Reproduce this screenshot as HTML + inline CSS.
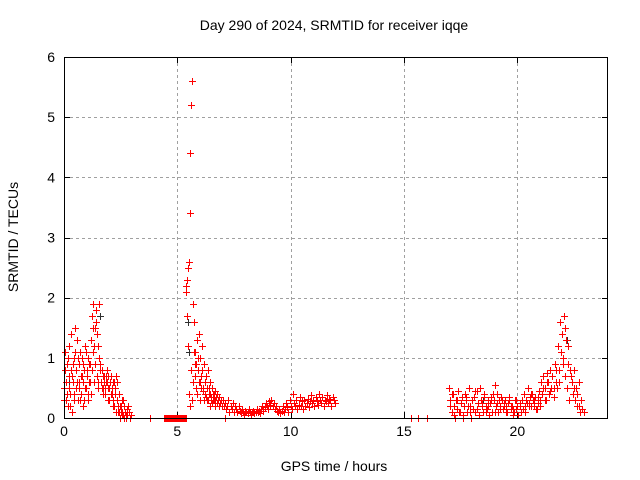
<!DOCTYPE html>
<html><head><meta charset="utf-8"><style>
body{margin:0;background:#fff;}
svg{display:block;font-family:"Liberation Sans",sans-serif;}
</style></head><body>
<svg id="chart" width="640" height="480" viewBox="0 0 640 480">
<rect width="640" height="480" fill="#fff"/>
<text x="334" y="30" font-size="14" text-anchor="middle">Day 290 of 2024, SRMTID for receiver iqqe</text>
<text x="334" y="471" font-size="14" text-anchor="middle">GPS time / hours</text>
<text transform="translate(18,237) rotate(-90)" font-size="14" text-anchor="middle">SRMTID / TECUs</text>
<g id="grid"></g>
<g id="ticks"></g>
<g id="marks"></g>
<rect x="64.5" y="57.5" width="543" height="361" fill="none" stroke="#000" stroke-width="1"/>
</svg>
<script>
const xTicks=[0,5,10,15,20];
const yTicks=[0,1,2,3,4,5,6];
const segStarts=[0,0.02,5.38,5.40,7.0,17.0,17.02,4.4];
const segSteps=[0.04,0.04,0.04,0.04,0.05,0.05,0.1,0.04];
const seg1=[0.5,1.1,0.3,0.9,0.2,0.7,1.2,0.4,0.8,0.1,0.6,1.0,1.5,0.5,1.3,0.3,0.9,0.6,1.1,0.4,0.7,0.9,0.3,1.2,0.5,0.8,1.0,0.4,0.6,0.9,1.3,1.7,1.9,0.6,1.5,1.8,0.7,1.2,0.5,1.9,0.9,0.6,0.8,0.5,0.7,0.4,0.6,0.8,0.5,0.7,0.3,0.6,0.7,0.4,0.6,0.2,0.5,0.7,0.3,0.6,0.1,0.4,0.2,0.1,0.3,0.05,0.2,0.1,0.0,0.15,0.05,0.2,0.1,0.0,0.05];
const seg1b=[0.3,0.8,0.6,0.4,1.0,0.5,0.2,1.4,0.7,0.9,0.4,0.3,1.1,0.8,0.6,1.0,0.5,0.3,0.7,1.0,0.6,0.2,0.8,0.5,1.1,0.7,0.3,0.9,0.6,0.4,0.8,1.1,1.5,1.2,0.9,1.6,1.4,0.6,1.0,0.8,0.6,0.5,0.7,0.4,0.6,0.5,0.7,0.6,0.3,0.5,0.6,0.4,0.5,0.2,0.3,0.6,0.4,0.1,0.3,0.2,0.1,0.0,0.2,0.1,0.05,0.3,0.0,0.1,0.05];
const seg2=[2.1,2.3,2.5,2.6,3.4,4.4,5.2,5.6,1.9,1.6,1.1,0.9,1.3,0.8,1.4,0.6,1.0,0.7,1.2,0.5,0.9,0.4,0.7,0.3,0.8,0.5,0.6,0.4,0.3,0.5,0.4,0.3,0.45,0.35,0.4,0.3,0.2,0.35,0.25,0.3,0.2];
const seg2b=[2.2,1.7,1.2,0.4,0.2,0.8,0.3,0.6,1.1,0.9,0.7,0.5,0.4,1.0,0.6,0.3,0.5,0.8,0.45,0.3,0.6,0.4,0.35,0.5,0.3,0.4,0.2,0.35,0.25,0.3,0.4,0.3,0.2,0.35,0.25];
const seg3=[0.3,0.2,0.25,0.15,0.2,0.3,0.1,0.2,0.15,0.25,0.1,0.2,0.15,0.1,0.2,0.12,0.08,0.15,0.1,0.05,0.12,0.1,0.08,0.15,0.1,0.05,0.1,0.12,0.08,0.1,0.15,0.1,0.12,0.08,0.15,0.2,0.12,0.18,0.25,0.2,0.15,0.28,0.22,0.3,0.2,0.25,0.15,0.2,0.12,0.1,0.15,0.08,0.12,0.2,0.1,0.15,0.25,0.18,0.1,0.3,0.2,0.15,0.4,0.25,0.2,0.3,0.15,0.22,0.35,0.2,0.28,0.15,0.3,0.2,0.25,0.32,0.18,0.28,0.38,0.25,0.3,0.2,0.35,0.28,0.22,0.4,0.3,0.25,0.35,0.2,0.3,0.28,0.38,0.25,0.32,0.3,0.2,0.35,0.3,0.25];
const seg4=[0.5,0.3,0.1,0.4,0.2,0.0,0.3,0.15,0.45,0.1,0.25,0.35,0.05,0.2,0.4,0.3,0.1,0.5,0.2,0.0,0.3,0.15,0.35,0.1,0.45,0.25,0.05,0.5,0.3,0.2,0.1,0.4,0.2,0.15,0.3,0.05,0.25,0.35,0.1,0.3,0.55,0.2,0.4,0.1,0.3,0.2,0.35,0.15,0.25,0.3,0.2,0.1,0.25,0.3,0.15,0.2,0.05,0.1,0.3,0.15,0.2,0.05,0.25,0.1,0.3,0.15,0.4,0.2,0.3,0.5,0.25,0.35,0.2,0.4,0.3,0.2,0.35,0.15,0.25,0.45,0.3,0.6,0.4,0.7,0.5,0.3,0.75,0.6,0.4,0.8,0.5,0.7,0.35,0.9,0.6,0.5,1.2,0.8,1.6,1.4,1.0,1.7,0.7,1.3,0.5,0.9,0.3,0.7,0.6,0.4,0.8,0.3,0.5,0.2,0.6,0.1,0.3,0.15];
const seg4b=[0.2,0.4,0.05,0.3,0.1,0.25,0.0,0.35,0.2,0.1,0.3,0.45,0.15,0.05,0.25,0.35,0.1,0.2,0.3,0.4,0.1,0.25,0.15,0.3,0.2,0.1,0.35,0.2,0.15,0.3,0.05,0.2,0.3,0.1,0.25,0.2,0.4,0.3,0.15,0.35,0.2,0.5,0.3,0.6,0.45,0.7,0.5,0.8,0.6,1.1,0.9,1.5,1.2,0.8,0.6,0.5,0.4,0.2,0.3,0.1];
const segZero=[0,0,0,0,0,0,0,0,0,0,0,0,0,0,0,0,0,0,0,0,0,0,0,0,0,0];
const extraHours=[3.8,7.1,15.3,15.6,16.0];
const extraValues=[0,0,0,0,0];
const darkHours=[0.2,1.6,5.45,5.5,22.2,18.5];
const darkValues=[0.6,1.7,1.6,1.1,1.3,0.3];
const segValues=[seg1,seg1b,seg2,seg2b,seg3,seg4,seg4b,segZero];

const X0=64,X1=608,Y0=418,Y1=57,XMAX=24,YMAX=6;
const xs=h=>X0+(X1-X0)*h/XMAX;
const ys=v=>Y0-(Y0-Y1)*v/YMAX;
const NS="http://www.w3.org/2000/svg";
const grid=document.getElementById('grid'),ticks=document.getElementById('ticks'),marks=document.getElementById('marks');
function mk(tag,attrs,parent){const e=document.createElementNS(NS,tag);for(const k in attrs)e.setAttribute(k,attrs[k]);parent.appendChild(e);return e;}
xTicks.forEach(t=>{
  const x=Math.round(xs(t))+0.5;
  if(t>0){const g=mk('line',{x1:x,x2:x,y1:Y1,y2:Y0,stroke:'#a0a0a0','stroke-dasharray':'3,3'},grid);
  
  }
  mk('line',{x1:x,x2:x,y1:Y0,y2:Y0-6,stroke:'#000'},ticks);
  mk('line',{x1:x,x2:x,y1:Y1,y2:Y1+6,stroke:'#000'},ticks);
  const l=mk('text',{x:xs(t),y:Y0+18,'font-size':14,'text-anchor':'middle'},ticks);
  
  
  l.textContent=t;
});
yTicks.forEach(t=>{
  const y=Math.round(ys(t))+0.5;
  if(t>0&&t<6){const g=mk('line',{x1:X0,x2:X1,y1:y,y2:y,stroke:'#a0a0a0','stroke-dasharray':'3,3'},grid);
  
  }
  mk('line',{x1:X0,x2:X0+6,y1:y,y2:y,stroke:'#000'},ticks);
  mk('line',{x1:X1-6,x2:X1,y1:y,y2:y,stroke:'#000'},ticks);
  const l=mk('text',{x:X0-9,y:ys(t)+5,'font-size':14,'text-anchor':'end'},ticks);
  
  
  l.textContent=t;
});
function plus(h,v){
  const x=Math.round(xs(h))+0.5,y=Math.round(ys(v))+0.5;
  return `M${x-3.5},${y}H${x+3.5}M${x},${y-3.5}V${y+3.5}`;
}
let d='';
segValues.forEach((arr,i)=>{arr.forEach((v,j)=>{d+=plus(segStarts[i]+segSteps[i]*j,v);});});
extraHours.forEach((h,i)=>{d+=plus(h,extraValues[i]);});
let dd='';
darkHours.forEach((h,i)=>{dd+=plus(h,darkValues[i]);});
const p2=mk('path',{d:dd,stroke:'#303030','stroke-width':1,fill:'none'},marks);


const p=mk('path',{d:d,stroke:'#ff0000','stroke-width':1,fill:'none'},marks);


</script>
</body></html>
